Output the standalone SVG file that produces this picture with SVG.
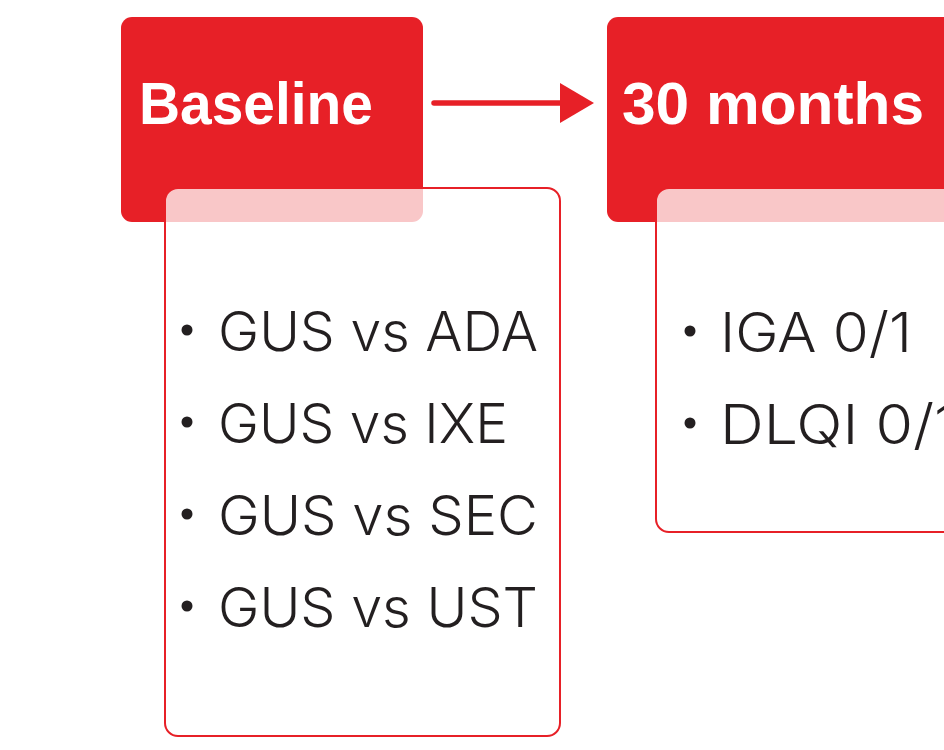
<svg xmlns="http://www.w3.org/2000/svg" width="944" height="750" viewBox="0 0 944 750">
  <style>
    .head { fill: #e72027; }
    .panel { fill: #ffffff; fill-opacity: 0.75; stroke: #e72027; stroke-width: 2; }
    .title { font-family: "Liberation Sans", Arial, sans-serif; font-weight: 700; font-size: 60px; fill: #ffffff; }
    .item { font-family: Inter, "Liberation Sans", sans-serif; font-weight: 300; font-size: 55px; fill: #231f20; }
    .dot { fill: #231f20; }
    .link { stroke: #e72027; stroke-width: 5.5; stroke-linecap: round; fill: none; }
  </style>
  <defs>
    <marker id="arrowhead" markerUnits="userSpaceOnUse" markerWidth="36" markerHeight="40" refX="2" refY="20" orient="auto">
      <path d="M0,0 L34,20 L0,40 Z" fill="#e72027"/>
    </marker>
  </defs>

  <rect width="944" height="750" fill="#ffffff"/>

  <!-- Baseline stage -->
  <g id="baseline">
    <rect class="head" x="121" y="17" width="302" height="205" rx="11"/>
    <text class="title" x="139" y="124" textLength="234" lengthAdjust="spacingAndGlyphs">Baseline</text>
    <rect class="panel" x="165" y="188" width="395" height="548" rx="13"/>
    <circle class="dot" cx="187" cy="330" r="5.5"/>
    <text class="item" x="218" y="351" textLength="320" lengthAdjust="spacingAndGlyphs">GUS vs ADA</text>
    <circle class="dot" cx="187" cy="422" r="5.5"/>
    <text class="item" x="218" y="443" textLength="290" lengthAdjust="spacingAndGlyphs">GUS vs IXE</text>
    <circle class="dot" cx="187" cy="514" r="5.5"/>
    <text class="item" x="218" y="535" textLength="320" lengthAdjust="spacingAndGlyphs">GUS vs SEC</text>
    <circle class="dot" cx="187" cy="606" r="5.5"/>
    <text class="item" x="218" y="627" textLength="320" lengthAdjust="spacingAndGlyphs">GUS vs UST</text>
  </g>

  <!-- 30 months stage -->
  <g id="months30">
    <rect class="head" x="607" y="17" width="360" height="205" rx="11"/>
    <text class="title" x="622" y="124" textLength="302" lengthAdjust="spacingAndGlyphs">30 months</text>
    <rect class="panel" x="656" y="188" width="320" height="344" rx="13"/>
    <circle class="dot" cx="690" cy="331" r="5.5"/>
    <text class="item" x="720" y="352" textLength="192" lengthAdjust="spacingAndGlyphs">IGA 0/1</text>
    <circle class="dot" cx="690" cy="423" r="5.5"/>
    <text class="item" x="720" y="444" textLength="238" lengthAdjust="spacingAndGlyphs">DLQI 0/1</text>
  </g>

  <!-- connectors -->
  <g id="connectors">
    <line class="link" x1="434" y1="103" x2="562" y2="103" marker-end="url(#arrowhead)"/>
  </g>
</svg>
